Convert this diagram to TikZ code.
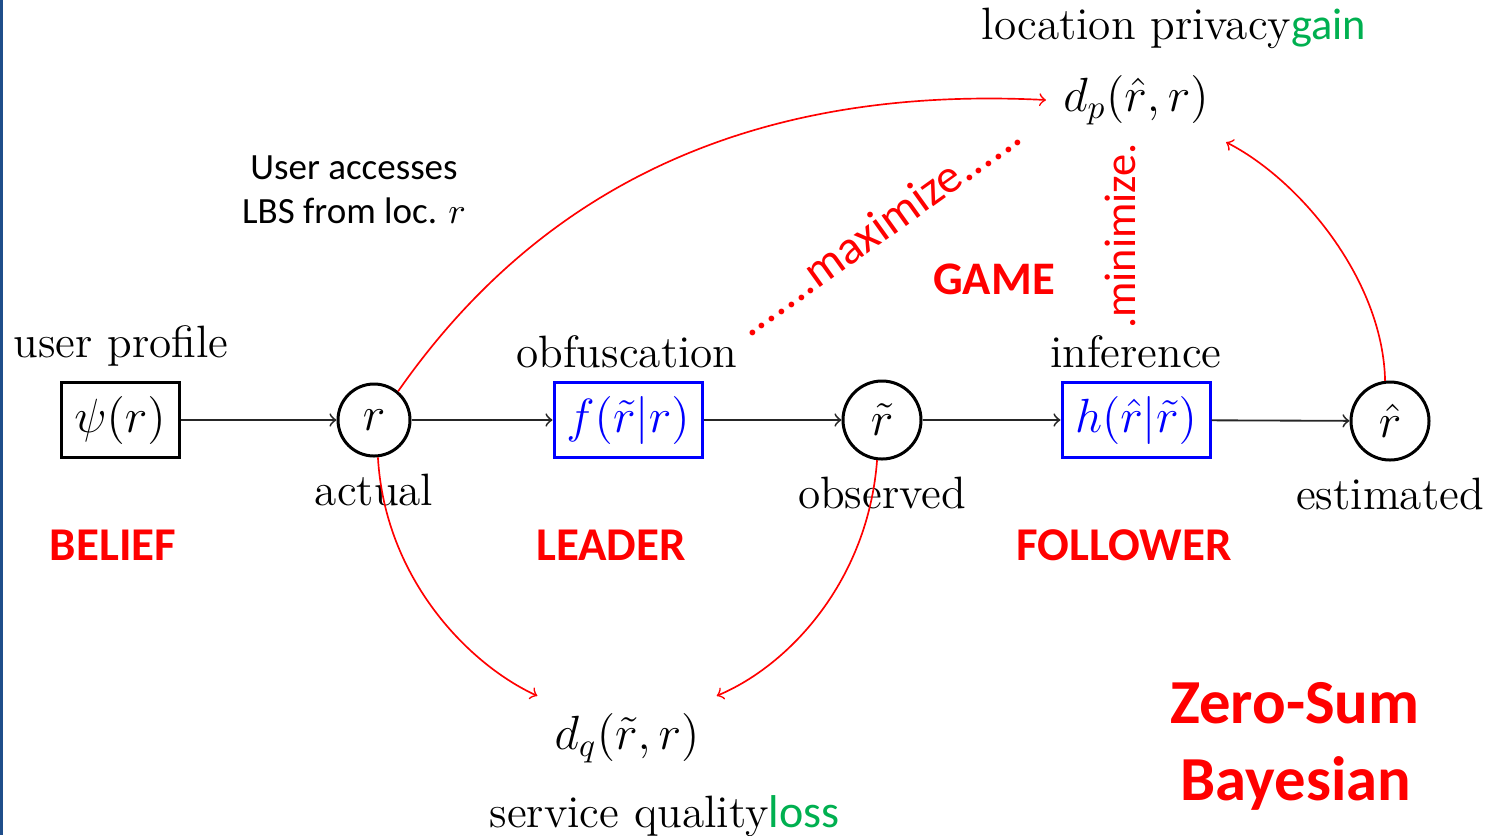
\documentclass[tikz,border=0pt]{standalone}
\usepackage{fontspec}
\newfontfamily\carlito{Carlito}
\definecolor{slideblue}{RGB}{31,78,138}
\definecolor{gaingreen}{RGB}{0,176,80}
\definecolor{boxblue}{RGB}{0,0,255}
\begin{document}
\begin{tikzpicture}[x=0.3pt,y=-0.3pt,
  lmtext/.style={font=\fontsize{13.6}{15}\selectfont, inner sep=0pt},
  mathlabel/.style={font=\fontsize{14.4}{17}\selectfont, inner sep=5pt},
  state/.style={circle, draw, line width=0.9pt, inner sep=0pt,
    minimum size=23.4pt, font=\fontsize{14.4}{17}\selectfont},
  func/.style={rectangle, draw, line width=0.9pt, inner sep=0pt,
    minimum width=44.4pt, minimum height=22.5pt, font=\fontsize{14.4}{17}\selectfont},
  stage/.style={font=\carlito\bfseries\fontsize{14.1}{17}\selectfont, text=red, inner sep=0pt},
  note/.style={font=\carlito\fontsize{11.1}{13.2}\selectfont, align=center, inner sep=0pt},
  goal/.style={font=\carlito\fontsize{14.3}{17}\selectfont, text=red, inner sep=0pt},
  flow/.style={->, line width=0.55pt, black!85},
  cost/.style={->, line width=0.5pt, red}]
  % page frame and the blue slide edge
  \useasboundingbox (0,0) rectangle (1493,835);
  \fill[white] (0,0) rectangle (1493,835);
  \fill[slideblue] (0,0) rectangle (3,835);

  % chain of nodes
  \node[func, minimum width=35.4pt] (prof) at (120,420) {$\psi(r)$};
  \node[state, minimum size=21.6pt] (r) at (374,420) {$r$};
  \node[func, draw=boxblue, text=boxblue] (f) at (628,420) {$f(\tilde r|r)$};
  \node[state] (rt) at (882,420) {$\tilde r$};
  \node[func, draw=boxblue, text=boxblue] (h) at (1136,420) {$h(\hat r|\tilde r)$};
  \node[state] (rh) at (1390,421) {$\hat r$};

  \draw[flow] (prof) -- (r);
  \draw[flow] (r) -- (f);
  \draw[flow] (f) -- (rt);
  \draw[flow] (rt) -- (h);
  \draw[flow] (h) -- (rh);

  % labels of the chain
  \node[lmtext] (lprof) at (121,346) {user profile};
  \node[lmtext] (lr) at (374,490) {actual};
  \node[lmtext] (lf) at (627,352) {obfuscation};
  \node[lmtext] (lrt) at (882,493) {observed};
  \node[lmtext] (lh) at (1136,352) {inference};
  \node[lmtext] (lrh) at (1390,494) {estimated};

  % distance measures
  \node[mathlabel] (dp) at (1136,100) {$d_p(\hat r,r)$};
  \node[mathlabel] (dq) at (627,738) {$d_q(\tilde r,r)$};
  \node[lmtext, anchor=base west] (lp) at (981,39)
    {location privacy{\carlito\fontsize{13.3}{15}\selectfont\color{gaingreen}gain}};
  \node[lmtext, anchor=base west] (lq) at (489,827)
    {service quality{\carlito\fontsize{13.8}{15}\selectfont\color{gaingreen}loss}};

  % red links to the distances
  \draw[cost] (r.50) .. controls (540,188) and (750,85) .. (dp.west);
  \draw[cost] (rh.97) .. controls (1383,280) and (1300,180) .. (dp.south east);
  \draw[cost] (r.-84) .. controls (385,580) and (470,665) .. (dq.north west);
  \draw[cost] (rt.-97) .. controls (868,580) and (790,665) .. (dq.north east);

  % annotations
  \node[note] (acc) at (354,190) {User accesses\\LBS from loc. $r$};
  \node[stage] (belief) at (113,545) {BELIEF};
  \node[stage] (leader) at (611,545) {LEADER};
  \node[stage] (follower) at (1124,545) {FOLLOWER};
  \node[stage, font=\carlito\bfseries\fontsize{14}{17}\selectfont] (game) at (994,279) {GAME};
  \node[goal, anchor=base, rotate=35.6] (max) at (887,240) {.......maximize......};
  \node[goal, font=\carlito\fontsize{13.3}{16}\selectfont, anchor=base, rotate=90] (min) at (1135,236) {.minimize.};
  \node[stage, font=\carlito\bfseries\fontsize{18.8}{23}\selectfont, anchor=base] (zs) at (1295,723) {Zero-Sum};
  \node[stage, font=\carlito\bfseries\fontsize{18.8}{23}\selectfont, anchor=base] (bay) at (1296,800) {Bayesian};
\end{tikzpicture}
\end{document}
